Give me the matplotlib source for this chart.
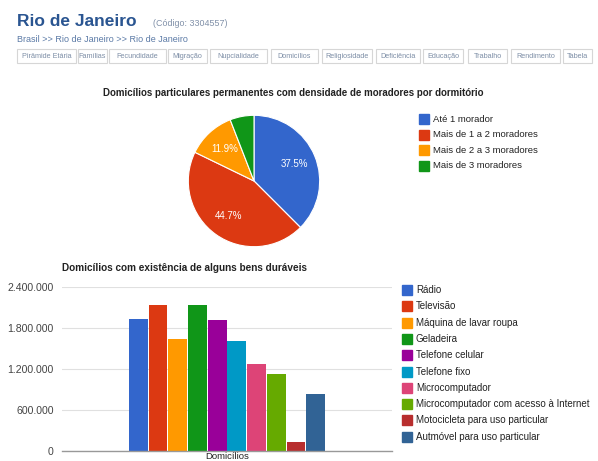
import matplotlib.pyplot as plt
from matplotlib.patches import Rectangle

plt.rcParams['font.family'] = ['Liberation Sans', 'DejaVu Sans']

# Header data
city = 'Rio de Janeiro'
code = '(Código: 3304557)'
crumbs = 'Brasil >> Rio de Janeiro >> Rio de Janeiro'
tabs = ['Pirâmide Etária', 'Famílias', 'Fecundidade', 'Migração', 'Nupcialidade',
        'Domicílios', 'Religiosidade', 'Deficiência', 'Educação', 'Trabalho',
        'Rendimento', 'Tabela']
tab_edges = [17, 76, 78, 107, 109, 166, 168, 207, 210, 267, 271, 318,
             322, 372, 376, 420, 423, 463, 468, 507, 511, 560, 563, 592]

# Pie data
pie_title = 'Domicílios particulares permanentes com densidade de moradores por dormitório'
pie_labels = ['Até 1 morador', 'Mais de 1 a 2 moradores',
              'Mais de 2 a 3 moradores', 'Mais de 3 moradores']
pie_values = [37.5, 44.7, 11.9, 5.9]
pie_colors = ['#3366cc', '#dc3912', '#ff9900', '#109618']

# Bar data
bar_title = 'Domicílios com existência de alguns bens duráveis'
bar_labels = ['Rádio', 'Televisão', 'Máquina de lavar roupa', 'Geladeira',
              'Telefone celular', 'Telefone fixo', 'Microcomputador',
              'Microcomputador com acesso à Internet',
              'Motocicleta para uso particular', 'Autmóvel para uso particular']
bar_values = [1928000, 2132000, 1636000, 2132000, 1918000, 1607000,
              1271000, 1125000, 127000, 828000]
bar_colors = ['#3366cc', '#dc3912', '#ff9900', '#109618', '#990099',
              '#0099c6', '#dd4477', '#66aa00', '#b82e2e', '#316395']
yticks = [0, 600000, 1200000, 1800000, 2400000]
category = 'Domicílios'

W, H = 598, 461
fig = plt.figure(figsize=(W / 100, H / 100), dpi=100)


def fx(px):
    return px / W


def fy(py):
    return 1 - py / H


# Overlay axes in pixel coordinates for the page decorations
deco = fig.add_axes([0, 0, 1, 1])
deco.set_xlim(0, W)
deco.set_ylim(H, 0)
deco.axis('off')

deco.text(17, 21, city, fontsize=12.5, fontweight='bold', color='#2a5591', va='center')
deco.text(153, 23, code, fontsize=6.4, color='#8090a8', va='center')
deco.text(17, 40, crumbs, fontsize=6.5, color='#5b7aa6', va='center')
for i, t in enumerate(tabs):
    x0, x1 = tab_edges[2 * i], tab_edges[2 * i + 1]
    deco.add_patch(Rectangle((x0, 49), x1 - x0, 14, fill=False,
                             ec='#d6d6d6', lw=0.8))
    deco.text((x0 + x1) / 2, 56, t, fontsize=5.2, color='#7d8ea6',
              ha='center', va='center')

# Pie chart
deco.text(293, 93, pie_title, fontsize=7, fontweight='bold', color='#222222',
          ha='center', va='center')
axp = fig.add_axes([fx(187), fy(248), fx(134), 134 / H])
axp.pie(pie_values, colors=pie_colors, startangle=90, counterclock=False,
        autopct=lambda p: '%.1f%%' % p if p > 8 else '', pctdistance=0.66,
        wedgeprops=dict(edgecolor='white', linewidth=0.8),
        textprops=dict(color='white', fontsize=7))
axp.set_xlim(-1.02, 1.02)
axp.set_ylim(-1.02, 1.02)
axp.set_aspect('equal')

for i, (lab, col) in enumerate(zip(pie_labels, pie_colors)):
    y = 119 + i * 15.5
    deco.add_patch(Rectangle((419, y - 5), 10, 10, color=col))
    deco.text(433, y, lab, fontsize=6.8, color='#222222', va='center')

# Bar chart
deco.text(62, 268, bar_title, fontsize=7.2, fontweight='bold', color='#222222',
          va='center')
axb = fig.add_axes([fx(62), fy(451), fx(330), (451 - 286.7) / H])
xs = list(range(len(bar_values)))
axb.bar(xs, bar_values, width=0.95, color=bar_colors, zorder=3)
axb.set_xlim(-3.875, 12.875)
axb.set_ylim(0, 2400000)
axb.set_yticks(yticks)
axb.set_yticklabels(['{:,}'.format(v).replace(',', '.') for v in yticks])
axb.tick_params(axis='y', length=0, labelsize=7.6, labelcolor='#444444', pad=6)
axb.set_xticks([])
axb.grid(axis='y', color='#e0e0e0', lw=0.8, zorder=0)
for s in ['top', 'right', 'left']:
    axb.spines[s].set_visible(False)
axb.spines['bottom'].set_color('#999999')
axb.spines['bottom'].set_linewidth(1)
axb.spines['bottom'].set_zorder(4)
deco.text(227, 459, category, fontsize=6.8, color='#222222', ha='center',
          va='baseline')

for i, (lab, col) in enumerate(zip(bar_labels, bar_colors)):
    y = 290 + i * 16.3
    deco.add_patch(Rectangle((402, y - 5), 10, 10, color=col))
    deco.text(416, y, lab, fontsize=7, color='#222222', va='center')

fig.savefig('out.png', dpi=100)
